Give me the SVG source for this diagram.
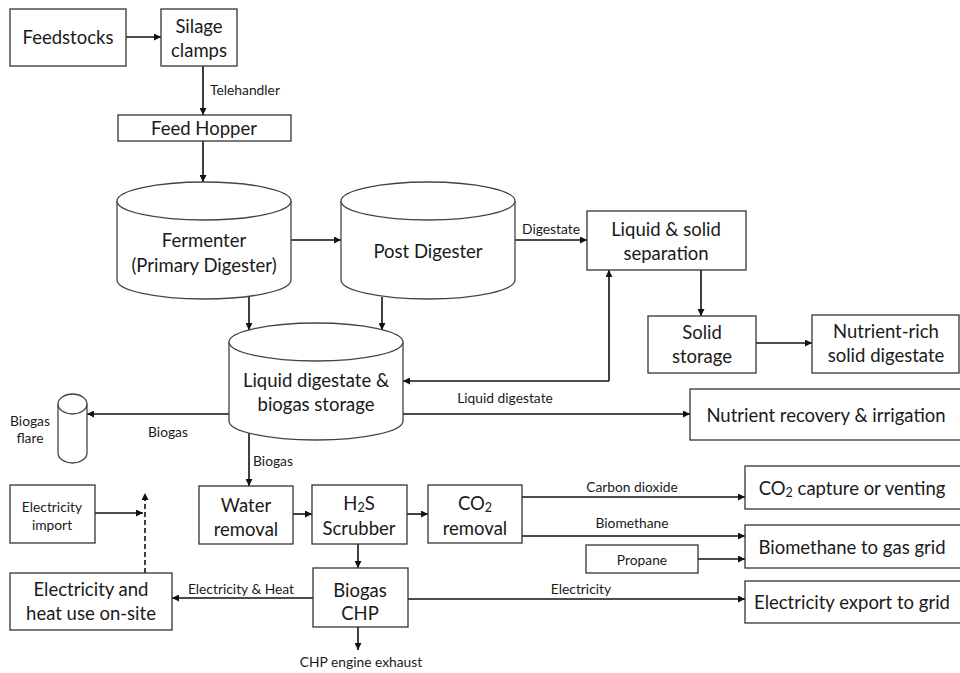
<svg xmlns="http://www.w3.org/2000/svg" width="960" height="673" viewBox="0 0 960 673">
<defs>
<style>
.box{fill:#fff;stroke:#333;stroke-width:1.3}
.cyl{fill:#fff;stroke:#444;stroke-width:1.3}
.ln{fill:none;stroke:#111;stroke-width:1.6}
.dash{fill:none;stroke:#111;stroke-width:1.6;stroke-dasharray:5,3}
text{font-family:Lato,"Liberation Sans",sans-serif;fill:#1a1a1a;text-anchor:middle;dominant-baseline:central}
.t{font-size:18.5px}
.s{font-size:13.8px}
</style>
<marker id="ah" viewBox="0 0 10 10" refX="10" refY="5" markerWidth="8" markerHeight="7" markerUnits="userSpaceOnUse" orient="auto">
<path d="M0,0 L10,5 L0,10 z" fill="#111"/>
</marker>
</defs>
<rect width="960" height="673" fill="#fff"/>

<g id="connectors">
<path class="ln" d="M126,37 H161" marker-end="url(#ah)"/>
<path class="ln" d="M203,66 V115" marker-end="url(#ah)"/>
<path class="ln" d="M203,141 V182" marker-end="url(#ah)"/>
<path class="ln" d="M291,240 H341" marker-end="url(#ah)"/>
<path class="ln" d="M515,240 H587" marker-end="url(#ah)"/>
<path class="ln" d="M249,297 V330" marker-end="url(#ah)"/>
<path class="ln" d="M382,297 V330" marker-end="url(#ah)"/>
<path class="ln" d="M701,270 V316" marker-end="url(#ah)"/>
<path class="ln" d="M756,343 H812" marker-end="url(#ah)"/>
<path class="ln" d="M609,370 V270" marker-end="url(#ah)"/>
<path class="ln" d="M609,381 H403" marker-end="url(#ah)"/>
<path class="ln" d="M609,370 V381"/>
<path class="ln" d="M403,414 H690" marker-end="url(#ah)"/>
<path class="ln" d="M229,414 H87" marker-end="url(#ah)"/>
<path class="ln" d="M249,433 V486" marker-end="url(#ah)"/>
<path class="ln" d="M293,514 H312" marker-end="url(#ah)"/>
<path class="ln" d="M407,514 H428" marker-end="url(#ah)"/>
<path class="ln" d="M358,544 V568" marker-end="url(#ah)"/>
<path class="ln" d="M358,627 V650" marker-end="url(#ah)"/>
<path class="ln" d="M313,598 H172" marker-end="url(#ah)"/>
<path class="ln" d="M408,599 H745" marker-end="url(#ah)"/>
<path class="ln" d="M522,497 H745" marker-end="url(#ah)"/>
<path class="ln" d="M522,536 H745" marker-end="url(#ah)"/>
<path class="ln" d="M698,559 H745" marker-end="url(#ah)"/>
<path class="ln" d="M95,513 H143" marker-end="url(#ah)"/>
<path class="dash" d="M145,573 V493" marker-end="url(#ah)"/>
<text class="s" x="245" y="89">Telehandler</text>
<text class="s" x="551" y="228">Digestate</text>
<text class="s" x="505" y="397">Liquid digestate</text>
<text class="s" x="168" y="431">Biogas</text>
<text class="s" x="273" y="460">Biogas</text>
<text class="s" x="632" y="486">Carbon dioxide</text>
<text class="s" x="632" y="522">Biomethane</text>
<text class="s" x="581" y="588">Electricity</text>
<text class="s" x="241" y="588">Electricity &amp; Heat</text>
<text class="s" x="361" y="661">CHP engine exhaust</text>
</g>

<g id="feedstocks">
<rect class="box" x="10" y="9" width="116" height="57"/>
<text class="t" x="68" y="37">Feedstocks</text>
</g>
<g id="silage-clamps">
<rect class="box" x="161" y="9" width="76" height="57"/>
<text class="t" x="199" y="26">Silage</text>
<text class="t" x="199" y="50">clamps</text>
</g>
<g id="feed-hopper">
<rect class="box" x="118" y="115" width="173" height="26"/>
<text class="t" x="204" y="128">Feed Hopper</text>
</g>
<g id="fermenter">
<path class="cyl" d="M117,201 V280 A87,19 0 0 0 291,280 V201"/>
<ellipse class="cyl" cx="204" cy="201" rx="87" ry="19"/>
<text class="t" x="204" y="240">Fermenter</text>
<text class="t" x="204" y="265">(Primary Digester)</text>
</g>
<g id="post-digester">
<path class="cyl" d="M341,201 V280 A87,19 0 0 0 515,280 V201"/>
<ellipse class="cyl" cx="428" cy="201" rx="87" ry="19"/>
<text class="t" x="428" y="251">Post Digester</text>
</g>
<g id="separation">
<rect class="box" x="587" y="211" width="159" height="59"/>
<text class="t" x="666" y="229">Liquid &amp; solid</text>
<text class="t" x="666" y="253">separation</text>
</g>
<g id="solid-storage">
<rect class="box" x="648" y="316" width="108" height="57"/>
<text class="t" x="702" y="332">Solid</text>
<text class="t" x="702" y="356">storage</text>
</g>
<g id="nutrient-rich">
<rect class="box" x="812" y="315" width="147" height="58"/>
<text class="t" x="886" y="331">Nutrient-rich</text>
<text class="t" x="886" y="355">solid digestate</text>
</g>
<g id="storage">
<path class="cyl" d="M229,342 V421 A87,19 0 0 0 403,421 V342"/>
<ellipse class="cyl" cx="316" cy="342" rx="87" ry="19"/>
<text class="t" x="316" y="380">Liquid digestate &amp;</text>
<text class="t" x="316" y="404">biogas storage</text>
</g>
<g id="nutrient-recovery">
<rect class="box" x="690" y="389" width="275" height="51"/>
<text class="t" x="826" y="415">Nutrient recovery &amp; irrigation</text>
</g>
<g id="biogas-flare">
<path class="cyl" d="M58,404 V453 A14.5,10 0 0 0 87,453 V404"/>
<ellipse class="cyl" cx="72.5" cy="404" rx="14.5" ry="10"/>
<text class="s" x="30" y="420">Biogas</text>
<text class="s" x="30" y="437">flare</text>
</g>
<g id="electricity-import">
<rect class="box" x="10" y="485" width="85" height="58"/>
<text class="s" x="52" y="506">Electricity</text>
<text class="s" x="52" y="524">import</text>
</g>
<g id="water-removal">
<rect class="box" x="199" y="486" width="94" height="58"/>
<text class="t" x="246" y="505">Water</text>
<text class="t" x="246" y="529">removal</text>
</g>
<g id="h2s-scrubber">
<rect class="box" x="312" y="485" width="95" height="59"/>
<text class="t" x="359" y="503">H<tspan font-size="12.5" dy="4">2</tspan><tspan dy="-4">S</tspan></text>
<text class="t" x="359" y="528">Scrubber</text>
</g>
<g id="co2-removal">
<rect class="box" x="428" y="485" width="94" height="58"/>
<text class="t" x="475" y="503">CO<tspan font-size="12.5" dy="4">2</tspan></text>
<text class="t" x="475" y="528">removal</text>
</g>
<g id="biogas-chp">
<rect class="box" x="313" y="568" width="95" height="59"/>
<text class="t" x="360" y="590">Biogas</text>
<text class="t" x="360" y="613">CHP</text>
</g>
<g id="onsite-use">
<rect class="box" x="10" y="573" width="162" height="57"/>
<text class="t" x="91" y="589">Electricity and</text>
<text class="t" x="91" y="613">heat use on-site</text>
</g>
<g id="co2-capture">
<rect class="box" x="745" y="466" width="220" height="43"/>
<text class="t" x="852" y="488">CO<tspan font-size="12.5" dy="4">2</tspan><tspan dy="-4"> capture or venting</tspan></text>
</g>
<g id="propane">
<rect class="box" x="586" y="545" width="112" height="28"/>
<text class="s" x="642" y="559">Propane</text>
</g>
<g id="biomethane-grid">
<rect class="box" x="745" y="525" width="220" height="43"/>
<text class="t" x="852" y="547">Biomethane to gas grid</text>
</g>
<g id="electricity-export">
<rect class="box" x="745" y="581" width="220" height="42"/>
<text class="t" x="852" y="602">Electricity export to grid</text>
</g>
</svg>
